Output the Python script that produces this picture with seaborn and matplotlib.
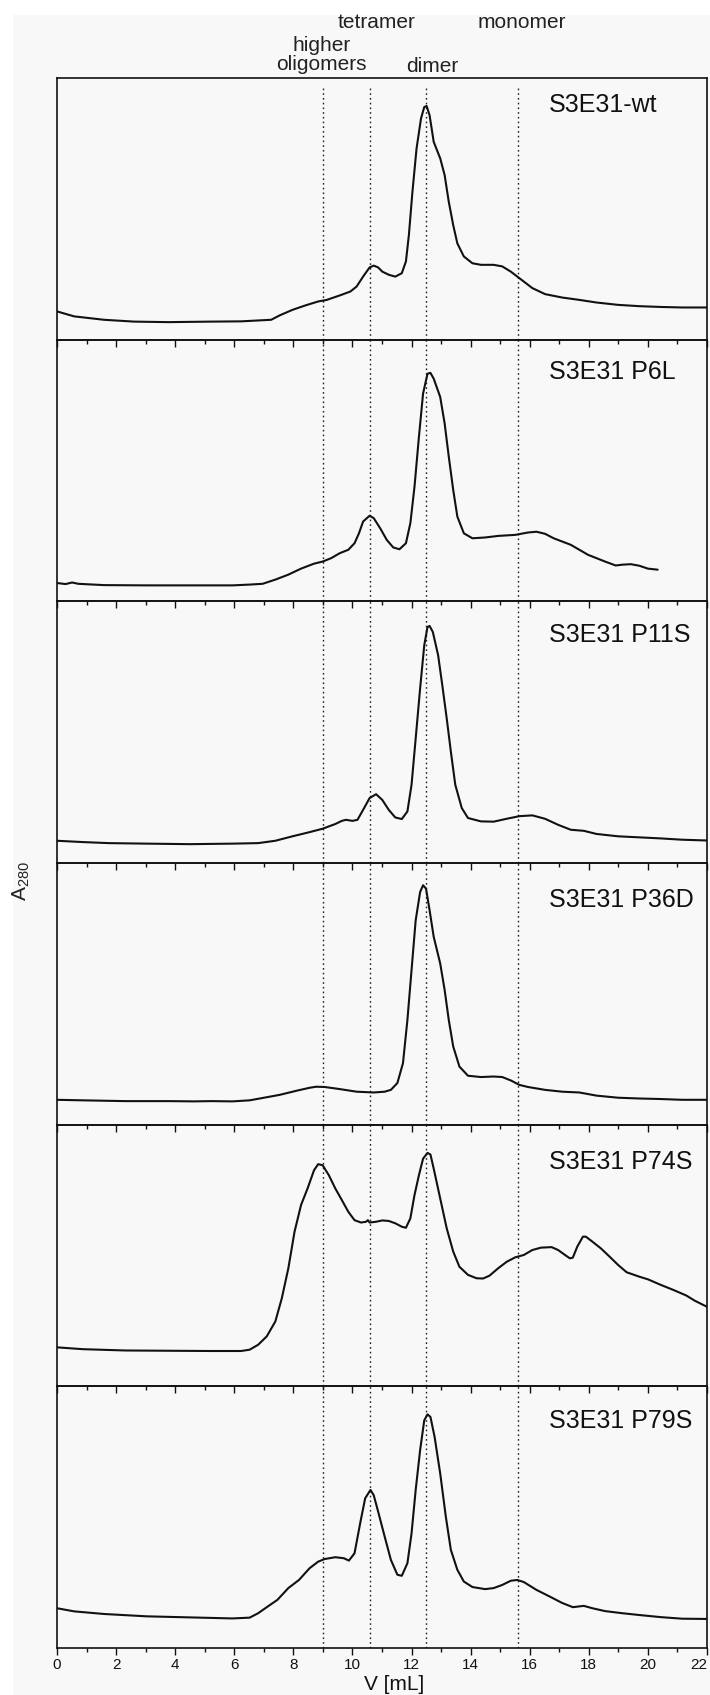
import numpy as np
import pandas as pd
import matplotlib
matplotlib.use("Agg")
import matplotlib.pyplot as plt
import seaborn as sns
from matplotlib import font_manager
from matplotlib.patches import Rectangle
from matplotlib.transforms import blended_transform_factory
from matplotlib.ticker import MultipleLocator

# ---------------- data ----------------
samples = ["S3E31-wt", "S3E31 P6L", "S3E31 P11S", "S3E31 P36D", "S3E31 P74S", "S3E31 P79S"]

v_wt = [0, 0.58, 1.59, 2.61, 3.77, 5.22, 6.23, 7.25, 7.54, 7.97, 8.41, 8.84, 9.13, 9.57, 9.93, 10.14,
        10.36, 10.58, 10.72, 10.87, 11.01, 11.23, 11.45, 11.67, 11.81, 11.91, 12.03, 12.17, 12.32, 12.43,
        12.51, 12.61, 12.75, 12.97, 13.12, 13.26, 13.41, 13.55, 13.77, 14.06, 14.35, 14.78, 15.07, 15.36,
        15.58, 15.80, 16.09, 16.52, 17.10, 17.68, 18.26, 18.99, 19.71, 20.43, 21.16, 22.0]
a_wt = [10.8, 8.9, 7.6, 6.9, 6.7, 6.9, 7.0, 7.6, 9.3, 11.4, 13.1, 14.6, 15.2, 16.9, 18.4, 20.3,
        24.1, 27.6, 28.3, 27.6, 26.0, 24.8, 24.1, 25.4, 29.9, 40.0, 56.5, 73.1, 84.5, 88.9,
        89.3, 85.8, 75.6, 69.3, 62.9, 52.7, 43.8, 36.8, 31.8, 29.2, 28.6, 28.6, 28.0, 26.0,
        24.1, 22.2, 19.7, 17.4, 16.1, 15.2, 14.2, 13.3, 12.8, 12.5, 12.3, 12.3]

v_p6l = [0, 0.29, 0.51, 0.72, 1.59, 3.04, 4.49, 5.94, 6.52, 6.96, 7.39, 7.83, 8.26, 8.70, 8.99, 9.28,
         9.57, 9.86, 10.07, 10.22, 10.36, 10.58, 10.72, 10.94, 11.16, 11.38, 11.59, 11.81, 11.96, 12.10,
         12.25, 12.39, 12.54, 12.64, 12.75, 12.97, 13.12, 13.26, 13.41, 13.55, 13.77, 14.06, 14.49, 14.93,
         15.51, 15.94, 16.23, 16.52, 16.81, 17.39, 17.97, 18.55, 18.91, 19.13, 19.42, 19.71, 20.00, 20.33]
a_p6l = [7.0, 6.6, 7.2, 6.7, 6.2, 6.1, 6.1, 6.1, 6.4, 6.7, 8.3, 10.2, 12.5, 14.4, 15.2, 16.5,
         18.4, 19.7, 22.2, 26.0, 30.5, 32.7, 31.8, 27.9, 23.5, 20.6, 19.9, 22.2, 29.9, 43.8,
         62.9, 79.4, 87.0, 87.3, 85.1, 78.1, 68.0, 55.3, 42.6, 32.4, 26.0, 24.1, 24.4, 25.0,
         25.4, 26.3, 26.6, 25.8, 24.1, 21.6, 17.8, 15.2, 13.7, 14.0, 14.2, 13.6, 12.5, 12.1]

v_p11s = [0, 0.87, 1.74, 3.04, 4.49, 5.94, 6.81, 7.39, 7.97, 8.55, 8.99, 9.42, 9.64, 9.78, 10.00, 10.17,
          10.36, 10.58, 10.80, 11.01, 11.23, 11.45, 11.67, 11.86, 12.00, 12.14, 12.29, 12.43, 12.54, 12.61,
          12.72, 12.90, 13.04, 13.19, 13.33, 13.48, 13.70, 13.91, 14.35, 14.78, 15.22, 15.65, 16.09, 16.52,
          16.96, 17.39, 17.83, 18.26, 18.99, 19.71, 20.43, 21.16, 22.0]
a_p11s = [8.5, 8.0, 7.6, 7.4, 7.2, 7.4, 7.6, 8.5, 10.2, 11.8, 13.1, 14.9, 16.1, 16.5, 16.1, 16.5,
          20.3, 24.8, 26.3, 24.1, 20.3, 17.4, 16.8, 19.7, 29.9, 47.6, 66.7, 83.2, 90.2, 90.6,
          88.3, 79.4, 68.0, 55.3, 42.6, 29.9, 21.0, 17.2, 15.9, 15.8, 16.9, 17.9, 18.2, 16.9,
          14.6, 12.7, 12.3, 11.1, 10.2, 9.8, 9.4, 8.9, 8.6]

v_p36d = [0, 0.87, 2.32, 3.77, 4.64, 5.22, 5.94, 6.52, 6.96, 7.54, 8.12, 8.55, 8.77, 9.06, 9.57, 10.14,
          10.72, 11.09, 11.30, 11.52, 11.71, 11.86, 12.00, 12.14, 12.29, 12.39, 12.49, 12.61, 12.75, 12.97,
          13.12, 13.26, 13.41, 13.62, 13.91, 14.35, 14.78, 15.07, 15.36, 15.65, 15.94, 16.52, 17.10, 17.68,
          18.26, 18.99, 19.71, 20.43, 21.16, 22.0]
a_p36d = [9.5, 9.3, 9.0, 9.0, 8.9, 9.0, 8.9, 9.3, 10.2, 11.4, 13.0, 14.1, 14.5, 14.4, 13.6, 12.6,
          12.3, 12.6, 13.3, 15.9, 23.5, 40.0, 59.1, 78.1, 88.9, 91.5, 90.2, 82.0, 71.8, 61.6,
          51.5, 40.0, 29.9, 22.2, 18.7, 18.2, 18.4, 18.2, 16.9, 15.2, 14.4, 13.3, 12.6, 12.3,
          11.1, 10.3, 10.0, 9.8, 9.5, 9.5]

v_p74s = [0, 0.87, 2.32, 3.77, 5.22, 6.23, 6.52, 6.81, 7.10, 7.39, 7.61, 7.83, 8.04, 8.26, 8.48, 8.70,
          8.84, 8.99, 9.20, 9.42, 9.64, 9.86, 10.07, 10.29, 10.46, 10.52, 10.58, 10.80, 11.01, 11.23,
          11.45, 11.67, 11.81, 11.96, 12.10, 12.25, 12.39, 12.54, 12.64, 12.75, 12.97, 13.19, 13.41, 13.62,
          13.91, 14.20, 14.42, 14.64, 14.93, 15.22, 15.51, 15.80, 16.09, 16.38, 16.74, 16.96, 17.17, 17.36,
          17.46, 17.61, 17.80, 17.90, 18.12, 18.41, 18.70, 18.99, 19.28, 19.71, 20.00, 20.43, 20.87, 21.30,
          21.59, 22.0]
a_p74s = [14.9, 14.2, 13.7, 13.6, 13.5, 13.5, 14.0, 15.9, 19.1, 24.8, 33.7, 45.1, 59.1, 69.3, 75.6, 82.6,
          84.9, 84.5, 80.7, 75.6, 71.2, 66.7, 63.5, 62.6, 62.9, 63.5, 62.6, 62.9, 63.4, 63.2,
          62.3, 61.0, 60.6, 64.2, 73.1, 80.7, 87.0, 89.2, 88.6, 83.2, 71.8, 60.4, 51.5, 45.7,
          42.6, 41.3, 41.2, 42.3, 45.1, 47.6, 49.3, 50.2, 52.1, 53.0, 53.2, 52.1, 50.4, 48.9,
          49.2, 53.4, 57.2, 57.2, 55.3, 52.7, 49.6, 46.4, 43.6, 41.9, 40.9, 38.8, 36.8, 34.7,
          32.7, 30.4]

v_p79s = [0, 0.58, 1.59, 3.04, 4.49, 5.94, 6.52, 6.81, 7.10, 7.46, 7.83, 8.19, 8.55, 8.84, 9.06, 9.42,
          9.71, 9.88, 10.07, 10.26, 10.43, 10.61, 10.72, 10.87, 11.09, 11.30, 11.52, 11.67, 11.86, 12.00,
          12.14, 12.29, 12.43, 12.54, 12.64, 12.78, 12.97, 13.16, 13.33, 13.55, 13.77, 14.06, 14.49, 14.78,
          15.07, 15.36, 15.58, 15.80, 16.23, 16.67, 17.10, 17.46, 17.83, 18.12, 18.55, 19.13, 19.71, 20.43,
          21.16, 22.0]
a_p79s = [15.2, 14.0, 13.0, 12.1, 11.7, 11.3, 11.6, 13.3, 15.6, 18.4, 22.9, 26.0, 30.5, 33.0, 34.0, 34.7,
          34.3, 33.4, 36.2, 47.6, 57.2, 60.4, 58.4, 52.1, 42.6, 33.7, 28.0, 27.6, 32.4, 43.8,
          60.4, 75.6, 87.0, 89.3, 88.3, 80.7, 66.7, 50.2, 37.5, 29.9, 25.4, 23.3, 22.5, 22.9,
          24.1, 25.7, 26.0, 25.2, 22.2, 19.7, 17.2, 15.6, 16.1, 15.2, 14.1, 13.3, 12.6, 11.8,
          11.2, 11.1]

volumes = [v_wt, v_p6l, v_p11s, v_p36d, v_p74s, v_p79s]
absorb = [a_wt, a_p6l, a_p11s, a_p36d, a_p74s, a_p79s]

marker_volumes = [9.0, 10.6, 12.5, 15.6]
species_labels = ["higher\noligomers", "tetramer", "dimer", "monomer"]
tick_values = list(range(0, 23, 2))
tick_labels = [str(t) for t in tick_values]

# ---------------- style ----------------
sns.set_theme(style="white")
names = {f.name for f in font_manager.fontManager.ttflist}
main_font = "Liberation Sans" if "Liberation Sans" in names else "DejaVu Sans"
narrow_font = "Liberation Sans Narrow" if "Liberation Sans Narrow" in names else main_font
plt.rcParams["font.family"] = [main_font, "DejaVu Sans"]
plt.rcParams["mathtext.fontset"] = "custom"
plt.rcParams["mathtext.rm"] = main_font
plt.rcParams["mathtext.it"] = main_font
plt.rcParams["mathtext.default"] = "regular"

BG = "#f8f8f8"
INK = "#111111"
W, H = 710, 1695
fig = plt.figure(figsize=(W / 100, H / 100), dpi=100, facecolor="white")
fig.patches.append(Rectangle((13 / W, 0), 1 - 13 / W, 1 - 15 / H, transform=fig.transFigure,
                             facecolor=BG, edgecolor="none", zorder=-10))

left, right = 57 / W, 707 / W
top, bottom = 1 - 78 / H, 1 - 1648 / H
n = len(samples)
ph = (top - bottom) / n
axes = []
for i in range(n):
    ax = fig.add_axes([left, top - (i + 1) * ph, right - left, ph])
    ax.set_facecolor("none")
    axes.append(ax)

label_y = [0.870, 0.851, 0.845, 0.832, 0.832, 0.842]

for i, ax in enumerate(axes):
    df = pd.DataFrame({"V": volumes[i], "A": absorb[i]})
    sns.lineplot(data=df, x="V", y="A", ax=ax, color=INK, linewidth=1.5, sort=False,
                 estimator=None, errorbar=None)
    for mv in marker_volumes:
        ax.axvline(mv, ymin=0, ymax=0.965 if i == 0 else 1.0, color="#222222",
                   linestyle=(0, (1.2, 2.2)), linewidth=1.0, zorder=1)
    ax.set_xlim(0, 22)
    ax.set_ylim(0, 100)
    ax.set_yticks([])
    ax.set_xlabel("")
    ax.set_ylabel("")
    for s in ax.spines.values():
        s.set_color(INK)
        s.set_linewidth(1.2)
    ax.xaxis.set_major_locator(MultipleLocator(2))
    ax.xaxis.set_minor_locator(MultipleLocator(1))
    ax.tick_params(axis="x", which="major", direction="out", length=5, width=1.0, color=INK,
                   bottom=True, top=False)
    ax.tick_params(axis="x", which="minor", direction="out", length=3, width=1.0, color=INK,
                   bottom=True, top=False)
    ax.text(16.65, label_y[i], samples[i], transform=blended_transform_factory(ax.transData, ax.transAxes),
            ha="left", va="baseline", fontsize=18, color=INK)
    if i < n - 1:
        ax.set_xticklabels([])

axb = axes[-1]
axb.set_xticks(tick_values)
axb.set_xticklabels(tick_labels, fontsize=11, family=narrow_font, color=INK)
axb.get_xticklabels()[-1].set_horizontalalignment("right")
axb.tick_params(axis="x", which="major", pad=2)
axb.set_xlabel("V [mL]", fontsize=15, color=INK, labelpad=0)
axb.xaxis.set_label_coords(11.4 / 22, -0.105)
axb.xaxis.label.set_verticalalignment("top")

# species labels above the top panel
tr = blended_transform_factory(axes[0].transData, fig.transFigure)
axes[0].text(8.94, 1 - 55 / H, species_labels[0], transform=tr, ha="center", va="center",
             fontsize=15, color="#222222", linespacing=1.05)
axes[0].text(10.8, 1 - 22 / H, species_labels[1], transform=tr, ha="center", va="center",
             fontsize=15, color="#222222")
axes[0].text(12.7, 1 - 67 / H, species_labels[2], transform=tr, ha="center", va="center",
             fontsize=15, color="#222222")
axes[0].text(15.74, 1 - 22 / H, species_labels[3], transform=tr, ha="center", va="center",
             fontsize=15, color="#222222")

fig.text(21 / W, 1 - 881 / H, r"A$_{280}$", rotation=90, ha="center", va="center",
         fontsize=15, color="#222222")

fig.savefig("out.png", dpi=100, facecolor="white")
